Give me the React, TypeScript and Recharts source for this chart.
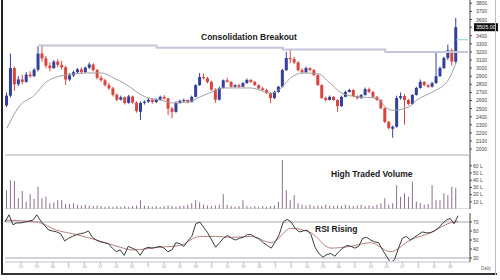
import { ComposedChart, Bar, Line, XAxis, YAxis, ReferenceLine } from "recharts";

// daily OHLC
const OPEN = [
  2540, 2660, 3000, 2800, 2860, 2830, 2920, 2900, 2980, 3180,
  3120, 3030, 3000, 3080, 3040, 3010, 2860, 2910, 2950, 2985,
  2950, 3005, 3045, 2975, 2880, 2850, 2790, 2750, 2670, 2610,
  2640, 2570, 2650, 2575, 2460, 2570, 2585, 2610, 2580, 2610,
  2645, 2625, 2500, 2460, 2570, 2595, 2606, 2580, 2645, 2790,
  2890, 2875, 2830, 2735, 2610, 2755, 2850, 2830, 2770, 2790,
  2770, 2815, 2855, 2830, 2790, 2750, 2730, 2690, 2630, 2705,
  2770, 2975, 3125, 3110, 3070, 2975, 2950, 3000, 2976, 2915,
  2790, 2630, 2606, 2645, 2606, 2530, 2645, 2705, 2730, 2655,
  2630, 2668, 2740, 2705, 2645, 2606, 2505, 2335, 2250, 2275,
  2630, 2655, 2606, 2557, 2668, 2755, 2830, 2790, 2770, 2815,
  2900, 3000, 3125, 3220, 3080,
];
const HIGH = [
  2700, 3180, 3020, 2900, 2920, 2950, 2960, 3000, 3270, 3290,
  3150, 3070, 3100, 3110, 3090, 3030, 2940, 2970, 3000, 3010,
  3020, 3070, 3060, 2990, 2910, 2870, 2820, 2770, 2690, 2660,
  2650, 2670, 2660, 2590, 2590, 2600, 2630, 2620, 2625, 2660,
  2665, 2635, 2520, 2590, 2610, 2625, 2615, 2660, 2800, 2940,
  2930, 2890, 2845, 2750, 2770, 2860, 2880, 2840, 2800, 2805,
  2830, 2870, 2865, 2840, 2800, 2770, 2745, 2700, 2720, 2780,
  2990, 3200, 3230, 3140, 3085, 3000, 3020, 3010, 2990, 2925,
  2800, 2650, 2660, 2655, 2615, 2660, 2720, 2745, 2740, 2665,
  2680, 2760, 2760, 2715, 2655, 2615, 2515, 2350, 2290, 2660,
  2700, 2680, 2620, 2680, 2770, 2860, 2840, 2800, 2830, 3200,
  3020, 3140, 3290, 3240, 3620,
];
const LOW = [
  2520, 2640, 2720, 2780, 2800, 2820, 2880, 2890, 2960, 3080,
  3000, 2960, 2990, 3010, 2980, 2790, 2840, 2890, 2930, 2930,
  2940, 2990, 2960, 2860, 2830, 2770, 2730, 2650, 2590, 2600,
  2550, 2560, 2560, 2450, 2360, 2550, 2570, 2560, 2570, 2600,
  2610, 2420, 2380, 2450, 2560, 2580, 2565, 2575, 2640, 2780,
  2860, 2810, 2720, 2570, 2600, 2750, 2820, 2760, 2760, 2755,
  2765, 2805, 2815, 2780, 2740, 2720, 2680, 2570, 2620, 2695,
  2760, 2965, 3060, 3050, 2960, 2930, 2940, 2960, 2900, 2780,
  2620, 2590, 2600, 2595, 2460, 2520, 2640, 2700, 2640, 2610,
  2620, 2660, 2690, 2630, 2595, 2490, 2320, 2240, 2140, 2265,
  2610, 2300, 2540, 2550, 2660, 2745, 2775, 2755, 2760, 2805,
  2890, 2990, 3100, 3030, 3060,
];
const CLOSE = [
  2660, 3000, 2800, 2860, 2830, 2920, 2900, 2980, 3180, 3120,
  3030, 3000, 3080, 3040, 3010, 2860, 2910, 2950, 2985, 2950,
  3005, 3045, 2975, 2880, 2850, 2790, 2750, 2670, 2610, 2640,
  2570, 2650, 2575, 2470, 2570, 2585, 2610, 2580, 2610, 2645,
  2625, 2500, 2460, 2570, 2595, 2606, 2580, 2645, 2790, 2890,
  2875, 2830, 2735, 2610, 2755, 2850, 2830, 2770, 2790, 2770,
  2815, 2855, 2830, 2790, 2750, 2730, 2690, 2630, 2705, 2770,
  2975, 3125, 3110, 3070, 2975, 2950, 3000, 2976, 2915, 2790,
  2630, 2606, 2645, 2606, 2530, 2645, 2705, 2730, 2655, 2630,
  2668, 2740, 2705, 2645, 2606, 2505, 2335, 2260, 2275, 2630,
  2655, 2606, 2557, 2668, 2755, 2830, 2790, 2770, 2815, 2900,
  3000, 3125, 3220, 3080, 3505,
];

// moving average, read at these candles
const MA_AT = [0, 3, 7, 10, 12, 15, 21, 24, 27, 30, 35, 39, 42, 46, 49, 52, 55, 59, 62, 67, 69, 72, 75, 79, 82, 85, 89, 94, 96, 98, 102, 104, 108, 112, 114];
const MA_VAL = [2260, 2520, 2668, 2830, 2880, 2915, 2940, 2940, 2880, 2805, 2645, 2606, 2570, 2580, 2645, 2705, 2755, 2755, 2755, 2690, 2730, 2880, 2940, 2930, 2815, 2690, 2645, 2630, 2520, 2480, 2520, 2606, 2705, 2853, 3075];

// consolidation line steps
const RES_AT = [8, 38, 70, 96, 117];
const RES_VAL = [3280, 3250, 3230, 3200, 3200];
const MARK_AT = [114, 117];
const MARK_VAL = [3350, 3350];

// volume in lakhs
const VOLUME = [
  26, 40, 39, 15, 25, 10, 21, 14, 31, 15,
  17, 8, 9, 12, 12, 7, 7, 8, 6, 5,
  6, 5, 4, 5, 4, 3, 4, 3, 4, 3,
  4, 3, 4, 5, 12, 5, 4, 3, 4, 3,
  4, 5, 4, 3, 4, 5, 6, 8, 12, 9,
  6, 5, 4, 5, 6, 21, 6, 4, 3, 4,
  12, 4, 3, 4, 3, 4, 3, 4, 5, 10,
  68, 26, 12, 19, 8, 6, 5, 6, 4, 5,
  4, 6, 5, 4, 5, 4, 6, 5, 4, 5,
  6, 4, 5, 4, 6, 8, 15, 6, 8, 33,
  17, 22, 17, 38, 10, 8, 6, 7, 33, 12,
  12, 22, 19, 31, 29,
];

const RSI = [
  70, 78, 67, 69, 69, 70, 71, 72, 78, 71,
  66, 61, 60, 59, 57, 49, 52, 54, 56, 57,
  58, 60, 53, 50, 48, 47, 46, 41, 37, 39,
  33, 43, 41, 39, 33, 40, 42, 41, 42, 43,
  41, 37, 39, 47, 46, 43, 49, 54, 68, 70,
  64, 58, 50, 42, 47, 52, 55, 52, 50, 52,
  53, 56, 56, 53, 51, 47, 44, 41, 48, 56,
  70, 73, 70, 63, 59, 60, 61, 56, 42, 35,
  31, 34, 35, 32, 37, 41, 44, 43, 41, 43,
  52, 53, 50, 48, 47, 39, 32, 25, 28, 41,
  52, 54, 50, 53, 56, 59, 58, 58, 60, 63,
  68, 72, 74, 68, 77,
];
const SIG_AT = [0, 8, 13, 18, 23, 29, 32, 39, 44, 49, 53, 57, 62, 67, 72, 77, 82, 87, 92, 97, 102, 107, 112, 114];
const SIG_VAL = [72, 70, 61, 56, 50, 42, 39, 42, 44, 54, 54, 53, 54, 47, 63, 58, 41, 43, 47, 37, 50, 58, 69, 71];

const PRICE_TICKS = [2000, 2100, 2200, 2300, 2400, 2500, 2600, 2700, 2800, 2900, 3000, 3100, 3200, 3300, 3400, 3600, 3700, 3800];
const VOL_TICKS = [10, 20, 30, 40, 50, 60];
const RSI_TICKS = [30, 40, 50, 60, 70];
const DATE_IDX = [4, 8, 12, 16, 20, 24, 28, 32, 36, 40, 44, 48, 52, 56, 60, 64, 68, 72, 76, 80, 84, 88, 92, 96, 100, 104, 108, 112];
const DATE_LABELS = ["12", "19", "26", "3", "10", "17", "24", "31", "7", "14", "21", "28", "5", "12", "19", "26", "2", "9", "16", "23", "30", "6", "13", "20", "27", "4", "11", "18"];

const LAST = CLOSE[CLOSE.length - 1];
const UP = "#33409c";
const DOWN = "#d9463f";

const pick = (at: number[], val: number[], i: number) => {
  const k = at.indexOf(i);
  return k < 0 ? null : val[k];
};

const rows = Array.from({ length: OPEN.length + 3 }, (_, i) => {
  const has = i < OPEN.length;
  return {
    i,
    range: has ? [LOW[i], HIGH[i]] : null,
    o: has ? OPEN[i] : null,
    c: has ? CLOSE[i] : null,
    vol: has ? VOLUME[i] : null,
    rsi: has ? RSI[i] : null,
    ma: pick(MA_AT, MA_VAL, i),
    res: pick(RES_AT, RES_VAL, i),
    mark: pick(MARK_AT, MARK_VAL, i),
    sig: pick(SIG_AT, SIG_VAL, i),
  };
});

function Candle(props: any) {
  const { x, y, width, height, payload } = props;
  if (!payload || !payload.range || !height) return null;
  const [lo, hi] = payload.range;
  const toY = (v: number) => y + ((hi - v) / (hi - lo)) * height;
  const up = payload.c >= payload.o;
  const top = toY(Math.max(payload.o, payload.c));
  const bot = toY(Math.min(payload.o, payload.c));
  const color = up ? UP : DOWN;
  const cx = x + width / 2;
  return (
    <g>
      <line x1={cx} x2={cx} y1={y} y2={y + height} stroke={color} strokeWidth={1} />
      <rect x={x} y={top} width={width} height={Math.max(bot - top, 1)} fill={color} />
    </g>
  );
}

function PriceTick({ x, y, payload }: any) {
  const v = payload.value;
  if (v === LAST) {
    return (
      <g>
        <rect x={x} y={y - 4} width={24} height={8} fill="#111" />
        <text x={x + 2} y={y + 2} fontSize={5.5} fill="#fff">{v.toFixed(2)}</text>
      </g>
    );
  }
  return (
    <text x={x + 2} y={y + 2} fontSize={5} fill="#444">{v}</text>
  );
}

const axisStyle = { stroke: "#444" };
const tickStyle = { fontSize: 5, fill: "#444" };
const title = {
  position: "absolute" as const,
  fontFamily: "'Liberation Sans', Arial, sans-serif",
  fontWeight: 700,
  fontSize: 8.5,
  lineHeight: "9px",
  color: "#1a1a1a",
  whiteSpace: "nowrap" as const,
};

export default function App() {
  return (
    <div
      style={{
        position: "absolute",
        left: 0,
        top: 0,
        width: 500,
        height: 280,
        background: "#fff",
        fontFamily: "'Liberation Sans', Arial, sans-serif",
        overflow: "hidden",
      }}
    >
      <div style={{ position: "absolute", left: 0, top: 0 }}>
        <ComposedChart width={500} height={155} data={rows} margin={{ top: 0, right: 0, bottom: 0, left: 5 }}>
          <XAxis dataKey="i" hide />
          <YAxis
            orientation="right"
            width={30}
            domain={[1927, 3841]}
            allowDataOverflow
            ticks={[...PRICE_TICKS, LAST]}
            interval={0}
            tick={<PriceTick />}
            tickSize={2}
            axisLine={axisStyle}
            tickLine={axisStyle}
          />
          <Line dataKey="res" type="stepAfter" stroke="#c3c6da" strokeWidth={2} dot={false} connectNulls isAnimationActive={false} />
          <Line dataKey="mark" stroke="#8fcfd6" strokeWidth={1} dot={false} connectNulls isAnimationActive={false} />
          <Line dataKey="ma" type="monotone" stroke="#a0a0a0" strokeWidth={1} dot={false} connectNulls isAnimationActive={false} />
          <Bar dataKey="range" barSize={3} shape={<Candle />} isAnimationActive={false} />
        </ComposedChart>
      </div>

      <div style={{ position: "absolute", left: 5, top: 154, width: 465, height: 2, background: "#d5d5dc" }} />

      <div style={{ position: "absolute", left: 0, top: 155 }}>
        <ComposedChart width={500} height={54} data={rows} margin={{ top: 0, right: 0, bottom: 0, left: 5 }}>
          <XAxis dataKey="i" hide />
          <YAxis
            orientation="right"
            width={30}
            domain={[0, 75]}
            allowDataOverflow
            ticks={VOL_TICKS}
            interval={0}
            tickFormatter={(v: number) => `${v} L`}
            tick={tickStyle}
            tickSize={2}
            tickMargin={1}
            axisLine={axisStyle}
            tickLine={axisStyle}
          />
          <ReferenceLine y={0} stroke="#bbb" />
          <Bar dataKey="vol" barSize={1} fill="#8c6e8e" isAnimationActive={false} />
        </ComposedChart>
      </div>

      <div style={{ position: "absolute", left: 0, top: 213 }}>
        <ComposedChart width={500} height={62} data={rows} margin={{ top: 0, right: 0, bottom: 0, left: 5 }}>
          <XAxis
            dataKey="i"
            height={13}
            ticks={DATE_IDX}
            interval={0}
            tickFormatter={(v: number) => DATE_LABELS[DATE_IDX.indexOf(v)]}
            tick={{ fontSize: 4, fill: "#999" }}
            tickSize={3}
            tickMargin={0}
            axisLine={{ stroke: "#dedee4", strokeWidth: 2 }}
            tickLine={{ stroke: "#bbb" }}
          />
          <YAxis
            orientation="right"
            width={30}
            domain={[25.6, 80]}
            allowDataOverflow
            ticks={RSI_TICKS}
            interval={0}
            tick={tickStyle}
            tickSize={2}
            tickMargin={1}
            axisLine={axisStyle}
            tickLine={axisStyle}
          />
          <ReferenceLine y={70} stroke="#d2d3da" strokeWidth={2} />
          <ReferenceLine y={30} stroke="#d2d3da" strokeWidth={2} />
          <Line dataKey="sig" type="monotone" stroke="#b88080" strokeWidth={1} dot={false} connectNulls isAnimationActive={false} />
          <Line dataKey="rsi" type="linear" stroke="#3a3a3a" strokeWidth={1} dot={false} isAnimationActive={false} />
        </ComposedChart>
      </div>

      <div style={{ ...title, left: 201, top: 33 }}>Consolidation Breakout</div>
      <div style={{ ...title, left: 331, top: 170 }}>High Traded Volume</div>
      <div style={{ ...title, left: 315, top: 225 }}>RSI Rising</div>
      <div style={{ position: "absolute", left: 481, top: 266, fontSize: 4.5, color: "#666" }}>Daily</div>

      <div style={{ position: "absolute", left: 1, top: 0, width: 2, height: 275, background: "#222" }} />
      <div style={{ position: "absolute", left: 1, top: 273, width: 496, height: 2, background: "#333" }} />
      <div style={{ position: "absolute", left: 495, top: 0, width: 1, height: 275, background: "#bbb" }} />
    </div>
  );
}
